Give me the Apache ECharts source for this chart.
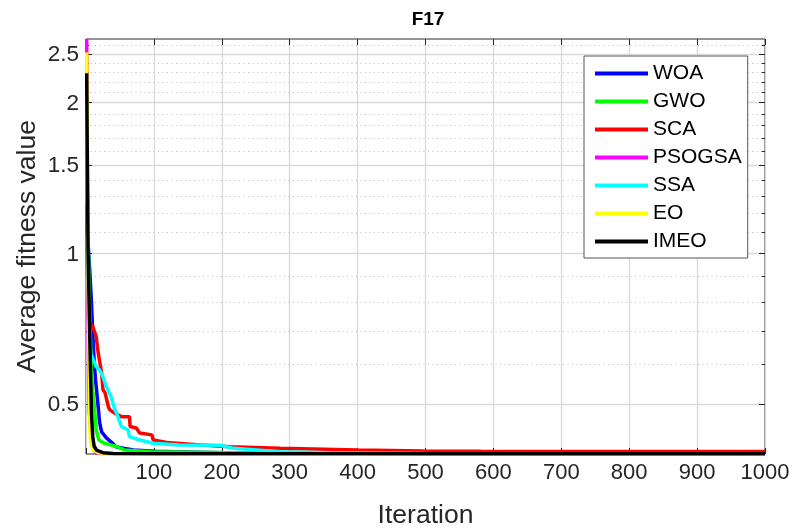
<!DOCTYPE html>
<html>
<head>
<meta charset="utf-8">
<script src="https://cdn.jsdelivr.net/npm/echarts@6/dist/echarts.min.js"></script>
<style>html,body{margin:0;padding:0;background:#fff;}#c{width:794px;height:529px;}</style>
</head>
<body>
<div id="c"></div>
<script>
// ---- data ----
const names = ['WOA', 'GWO', 'SCA', 'PSOGSA', 'SSA', 'EO', 'IMEO'];
const colors = ['#0000ff', '#00ff00', '#ff0000', '#ff00ff', '#00ffff', '#ffff00', '#000000'];

const WOA_it  = [1, 2, 4, 6, 8, 10, 12, 14, 17, 20, 23, 30, 38, 44, 55, 70, 100, 200, 500, 1000];
const WOA_val = [1.25, 1.10, 1.0, 0.9, 0.8, 0.69, 0.61, 0.56, 0.51, 0.46, 0.44, 0.428, 0.419, 0.411, 0.408, 0.405, 0.4025, 0.400, 0.3985, 0.3979];

const GWO_it  = [1, 2, 3, 5, 8, 10, 12, 13, 15, 19, 26, 36, 46, 56, 95, 200, 400, 1000];
const GWO_val = [1.9, 1.4, 1.1, 0.8, 0.58, 0.53, 0.50, 0.48, 0.444, 0.424, 0.418, 0.4146, 0.411, 0.405, 0.4018, 0.4003, 0.399, 0.3979];

const SCA_it  = [1, 2, 3, 4, 10, 15, 18, 23, 25, 28, 33, 35, 42, 52, 64, 65, 74, 79, 97, 99, 119, 163, 212, 286, 400, 497, 581, 1000];
const SCA_val = [1.6, 1.0, 0.8, 0.73, 0.714, 0.682, 0.632, 0.577, 0.534, 0.527, 0.494, 0.487, 0.480, 0.472, 0.472, 0.451, 0.448, 0.438, 0.434, 0.424, 0.419, 0.4146, 0.411, 0.408, 0.405, 0.403, 0.4025, 0.402];

const PSOGSA_it  = [1, 2, 3, 4, 5, 7, 10, 14, 25, 1000];
const PSOGSA_val = [2.68, 1.5, 0.8, 0.55, 0.48, 0.44, 0.41, 0.400, 0.3985, 0.3979];

const SSA_it  = [1, 2, 3, 4, 5, 7, 10, 15, 20, 25, 30, 37, 42, 47, 52, 62, 64, 79, 99, 138, 197, 207, 217, 286, 360, 500, 1000];
const SSA_val = [1.95, 1.3, 0.95, 0.75, 0.66, 0.63, 0.617, 0.594, 0.585, 0.567, 0.542, 0.517, 0.490, 0.472, 0.451, 0.444, 0.4305, 0.424, 0.4176, 0.4143, 0.4137, 0.4111, 0.408, 0.4018, 0.400, 0.3985, 0.3979];

const EO_it  = [1, 2, 3, 4, 5, 6, 7, 11, 18, 30, 1000];
const EO_val = [2.52, 1.6, 1.0, 0.7, 0.52, 0.44, 0.418, 0.405, 0.400, 0.3985, 0.3979];

const IMEO_it  = [1, 2, 3, 6, 8, 10, 12, 16, 25, 40, 100, 1000];
const IMEO_val = [2.29, 1.5, 1.02, 0.64, 0.48, 0.43, 0.412, 0.404, 0.400, 0.3985, 0.398, 0.3979];

const yTicks = [0.5, 1, 1.5, 2, 2.5];
const yTickLabels = ['0.5', '1', '1.5', '2', '2.5'];
const yMinor = [0.6, 0.7, 0.8, 0.9, 1.1, 1.2, 1.3, 1.4, 1.6, 1.7, 1.8, 1.9, 2.1, 2.2, 2.3, 2.4, 2.6];
const xTickStep = 100;
const yMin = 0.3975, yMax = 2.68, xMin = 0, xMax = 1000;

// ---- build ----
const its = [WOA_it, GWO_it, SCA_it, PSOGSA_it, SSA_it, EO_it, IMEO_it];
const vals = [WOA_val, GWO_val, SCA_val, PSOGSA_val, SSA_val, EO_val, IMEO_val];
const AX = '#262626';
const FONT = '"Liberation Sans", Arial, Helvetica, sans-serif';
const GRID = '#d9d9d9';

const pxPerUnit = 679 / (xMax - xMin);
const majLen = 6 / pxPerUnit, minLen = 3 / pxPerUnit;

const gridLines = [];
yTicks.forEach((v, i) => gridLines.push({
  yAxis: v,
  lineStyle: {color: GRID, width: 1.3, type: 'solid'},
  label: {show: true, position: 'start', formatter: yTickLabels[i], color: AX, fontSize: 22.5, fontFamily: FONT, distance: 7, offset: [0, 1]}
}));
yMinor.forEach(v => gridLines.push({
  yAxis: v,
  lineStyle: {color: '#bcbcbc', width: 1, type: [1, 3.5]},
  label: {show: false}
}));
const tickSegs = [];
yTicks.forEach(v => {
  tickSegs.push([{coord: [xMin, v]}, {coord: [xMin + majLen, v]}]);
  tickSegs.push([{coord: [xMax - majLen, v]}, {coord: [xMax, v]}]);
});
yMinor.forEach(v => {
  tickSegs.push([{coord: [xMin, v]}, {coord: [xMin + minLen, v]}]);
  tickSegs.push([{coord: [xMax - minLen, v]}, {coord: [xMax, v]}]);
});

const series = [{
  name: '_grid', type: 'line', data: [], silent: true, z: 1,
  markLine: {silent: true, symbol: 'none', animation: false, precision: 4, z: 1, data: gridLines}
}];
names.forEach((n, k) => {
  series.push({
    name: n, type: 'line', showSymbol: false, symbol: 'none', animation: false, z: 2 + k,
    lineStyle: {color: colors[k], width: 3.5},
    itemStyle: {color: colors[k]},
    data: its[k].map((it, j) => [it, vals[k][j]])
  });
});
series.push({
  name: '_ticks', type: 'line', data: [], silent: true, z: 2,
  markLine: {silent: true, symbol: 'none', animation: false, z: 2, label: {show: false},
    lineStyle: {color: AX, width: 1, type: 'solid'}, data: tickSegs}
});

const chart = echarts.init(document.getElementById('c'), null, {renderer: 'canvas'});
chart.setOption({
  animation: false,
  backgroundColor: '#ffffff',
  title: {
    text: 'F17', left: 423, top: 5, textAlign: 'center',
    textStyle: {fontSize: 19, fontWeight: 'bold', color: '#000', fontFamily: FONT}
  },
  grid: {left: 86, right: 29, top: 39, bottom: 75, show: true, borderColor: AX, borderWidth: 1,
    backgroundColor: 'transparent', containLabel: false, outerBoundsMode: 'none'},
  legend: {
    data: names, orient: 'vertical', left: 584, top: 56, z: 30,
    icon: 'rect', itemWidth: 53, itemHeight: 4, itemGap: 7,
    padding: [7, 6, 6, 11],
    backgroundColor: '#ffffff', borderColor: '#555', borderWidth: 1,
    textStyle: {fontSize: 21, lineHeight: 20, color: '#000', fontFamily: FONT},
    selectedMode: false
  },
  xAxis: [{
    type: 'value', min: xMin, max: xMax, interval: xTickStep, position: 'bottom',
    name: 'Iteration', nameLocation: 'middle', nameGap: 48,
    nameTextStyle: {fontSize: 26.5, color: AX, fontFamily: FONT},
    axisLine: {show: false},
    axisTick: {show: true, inside: true, length: 6, lineStyle: {color: AX}},
    axisLabel: {fontSize: 22, color: AX, fontFamily: FONT, margin: 8,
      formatter: v => (v === xMin ? '' : String(v))},
    splitLine: {show: true, lineStyle: {color: GRID, width: 1.3}}
  }, {
    type: 'value', min: xMin, max: xMax, interval: xTickStep, position: 'top',
    axisLine: {show: false},
    axisTick: {show: true, inside: true, length: 6, lineStyle: {color: AX}},
    axisLabel: {show: false}, splitLine: {show: false}
  }],
  yAxis: [{
    type: 'log', logBase: 10, min: yMin, max: yMax, position: 'left',
    name: 'Average fitness value', nameLocation: 'middle', nameGap: 45,
    nameTextStyle: {fontSize: 26.5, color: AX, fontFamily: FONT},
    axisLine: {show: false}, axisTick: {show: false}, axisLabel: {show: false},
    splitLine: {show: false}, minorTick: {show: false}, minorSplitLine: {show: false}
  }],
  series: series
});
</script>
</body>
</html>
